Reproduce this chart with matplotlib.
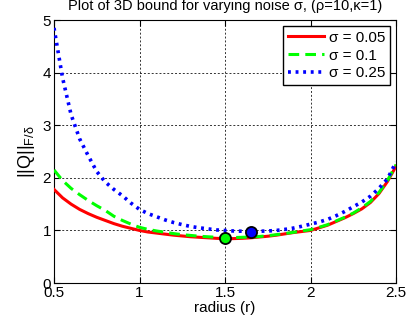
import matplotlib
matplotlib.use("Agg")
import matplotlib.pyplot as plt
import numpy as np

plt.rcParams['font.family'] = ['Liberation Sans', 'DejaVu Sans']
plt.rcParams['mathtext.fontset'] = 'custom'
plt.rcParams['mathtext.rm'] = 'Liberation Sans'
plt.rcParams['mathtext.it'] = 'Liberation Sans:italic'

radius = np.round(np.arange(0.5, 2.5001, 0.05), 2)

bound_005 = [1.78, 1.62, 1.50, 1.40, 1.32, 1.25, 1.19, 1.13, 1.08, 1.04,
             1.00, 0.97, 0.95, 0.93, 0.91, 0.895, 0.88, 0.87, 0.86, 0.85,
             0.845, 0.845, 0.85, 0.86, 0.875, 0.89, 0.91, 0.935, 0.96, 0.98,
             1.00, 1.05, 1.10, 1.17, 1.24, 1.32, 1.41, 1.53, 1.70, 1.93, 2.22]

bound_010 = [2.15, 1.95, 1.80, 1.68, 1.57, 1.47, 1.38, 1.27, 1.19, 1.12,
             1.06, 1.02, 0.99, 0.965, 0.94, 0.92, 0.905, 0.89, 0.88, 0.87,
             0.865, 0.865, 0.87, 0.875, 0.885, 0.90, 0.92, 0.94, 0.965, 0.99,
             1.015, 1.06, 1.11, 1.18, 1.25, 1.33, 1.43, 1.55, 1.72, 1.95, 2.25]

bound_025 = [4.85, 3.90, 3.20, 2.74, 2.42, 2.12, 1.92, 1.78, 1.66, 1.52,
             1.40, 1.32, 1.26, 1.20, 1.15, 1.11, 1.075, 1.05, 1.03, 1.01,
             1.00, 0.99, 0.985, 0.98, 0.985, 0.99, 1.00, 1.02, 1.045, 1.08,
             1.12, 1.16, 1.21, 1.28, 1.36, 1.45, 1.54, 1.65, 1.80, 1.98, 2.30]

# minimum points marked on the curves
min_r_010, min_v_010 = 1.5, 0.865
min_r_025, min_v_025 = 1.65, 0.98

labels = ['σ = 0.05', 'σ = 0.1', 'σ = 0.25']
x_ticks = [0.5, 1, 1.5, 2, 2.5]
y_ticks = [0, 1, 2, 3, 4, 5]

fig = plt.figure(figsize=(4.07, 3.28), dpi=100)
ax = fig.add_axes([0.1327, 0.137, 0.8403, 0.802])

ax.plot(radius, bound_005, color='#ff0000', lw=2.2, ls='-', label=labels[0], zorder=3)
ax.plot(radius, bound_010, color='#00ff00', lw=2.2, ls=(0, (3.5, 2)), label=labels[1], zorder=4)
ax.plot(radius, bound_025, color='#0000ff', lw=2.6, ls=(0, (0.8, 1.3)), label=labels[2], zorder=5)

ax.plot([min_r_010], [min_v_010], 'o', ms=8, mfc='#00ff00', mec='black', mew=1.3, zorder=6)
ax.plot([min_r_025], [min_v_025], 'o', ms=8, mfc='#0000ff', mec='black', mew=1.3, zorder=6)

ax.set_xlim(0.5, 2.5)
ax.set_ylim(0, 5)
ax.set_xticks(x_ticks)
ax.set_xticklabels(['0.5', '1', '1.5', '2', '2.5'])
ax.set_yticks(y_ticks)
ax.tick_params(direction='in', top=True, right=True, labelsize=11, length=4, pad=2)
ax.grid(True, color='black', ls=(0, (2, 2)), lw=0.7, alpha=0.8)
for s in ax.spines.values():
    s.set_linewidth(0.8)

ax.set_xlabel('radius (r)', fontsize=11, labelpad=1)
ax.set_ylabel(r'$\mathregular{||Q||_{F/\delta}}$', fontsize=13, labelpad=4)
ax.set_title('Plot of 3D bound for varying noise σ, (ρ=10,κ=1)', fontsize=10.5, pad=7)

leg = ax.legend(loc='upper right', fontsize=11, frameon=True, fancybox=False,
                edgecolor='black', framealpha=1, handlelength=2.4,
                handletextpad=0.3, borderpad=0.3, labelspacing=0.25,
                borderaxespad=0.4)
leg.get_frame().set_linewidth(1.0)

fig.savefig('out.png', dpi=100)
